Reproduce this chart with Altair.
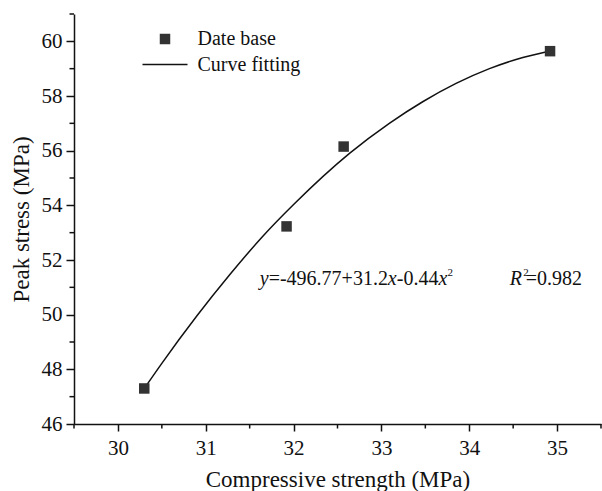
import altair as alt
import pandas as pd

# measured data points
strength = [30.30, 31.92, 32.57, 34.92]
peak = [47.30, 53.23, 56.15, 59.64]

# points
curve_x = [30.30, 30.50, 30.90, 31.27, 31.65, 32.00, 32.64, 33.09, 33.47, 33.85, 34.23, 34.61, 34.92]
curve_y = [47.30, 48.22, 49.96, 51.45, 52.87, 54.03, 55.91, 57.00, 57.79, 58.46, 59.00, 59.41, 59.65]

x_major = [30, 31, 32, 33, 34, 35]
x_minor = [29.5, 30.5, 31.5, 32.5, 33.5, 34.5, 35.5]
y_major = [46, 48, 50, 52, 54, 56, 58, 60]
y_minor = [47, 49, 51, 53, 55, 57, 59, 61]

legend_labels = ["Date base", "Curve fitting"]

FONT = "'Liberation Serif', 'Times New Roman', 'DejaVu Serif', serif"
W, H = 527, 410

pts = pd.DataFrame({"x": strength, "y": peak})
crv = pd.DataFrame({"x": curve_x, "y": curve_y})

xs = alt.Scale(domain=[29.5, 35.5], nice=False, zero=False)
ys = alt.Scale(domain=[46, 61], nice=False, zero=False)

xaxis = alt.Axis(values=x_major, title="Compressive strength (MPa)", grid=False,
                 tickSize=7, tickWidth=1.5, domainWidth=1.5, domainColor="#111",
                 tickColor="#111", labelFontSize=21, labelFont=FONT, labelColor="#111",
                 labelPadding=6, titleFont=FONT, titleFontSize=23, titleFontWeight="normal",
                 titleColor="#111", titlePadding=10, format="d")
yaxis = alt.Axis(values=y_major, title="Peak stress (MPa)", grid=False,
                 tickSize=8, tickWidth=1.5, domainWidth=1.5, domainColor="#111",
                 tickColor="#111", labelFontSize=21, labelFont=FONT, labelColor="#111",
                 labelPadding=4, titleFont=FONT, titleFontSize=23, titleFontWeight="normal",
                 titleColor="#111", titlePadding=8, format="d")

line = alt.Chart(crv).mark_line(color="#111", strokeWidth=1.5, interpolate="monotone").encode(
    x=alt.X("x:Q", scale=xs, axis=xaxis),
    y=alt.Y("y:Q", scale=ys, axis=yaxis),
)

points = alt.Chart(pts).mark_point(shape="square", filled=True, size=110, color="#333",
                                   opacity=1).encode(
    x=alt.X("x:Q", scale=xs),
    y=alt.Y("y:Q", scale=ys),
)

xminor = alt.Chart(pd.DataFrame({"x": x_minor})).mark_rule(color="#111", strokeWidth=1.5).encode(
    x=alt.X("x:Q", scale=xs), y=alt.value(H), y2=alt.value(H + 4.5))
yminor = alt.Chart(pd.DataFrame({"y": y_minor})).mark_rule(color="#111", strokeWidth=1.5).encode(
    y=alt.Y("y:Q", scale=ys), x=alt.value(0), x2=alt.value(-4.5))

# legend (manual)
leg_sq = alt.Chart(pd.DataFrame({"k": [legend_labels[0]]})).mark_point(
    shape="square", filled=True, size=110, color="#333", opacity=1).encode(
    x=alt.value(91), y=alt.value(25))
leg_ln = alt.Chart(pd.DataFrame({"k": [legend_labels[1]]})).mark_rule(
    color="#111", strokeWidth=1.5).encode(x=alt.value(68.5), x2=alt.value(113.5), y=alt.value(50.5))
leg_txt = alt.Chart(pd.DataFrame({"t": legend_labels, "yy": [25, 50.5]})).mark_text(
    align="left", baseline="middle", font=FONT, fontSize=20, color="#111").encode(
    x=alt.value(123.5), y=alt.Y("yy:Q", scale=None), text="t:N")

# equation annotation
eq_x, eq_y = 31.615, 51.07
segs = [
    ("y", 0, 0, "italic", 20),
    ("=-496.77+31.2", 8.9, 0, "normal", 20),
    ("x", 128.1, 0, "italic", 20),
    ("-0.44", 137.0, 0, "normal", 20),
    ("x", 178.7, 0, "italic", 20),
    ("2", 187.8, -9, "normal", 11),
]
r_x = 34.46
rsegs = [
    ("R", 0, 0, "italic", 20),
    ("2", 13.5, -9, "normal", 11),
    ("=0.982", 16, 0, "normal", 20),
]
ann = []
for ax, lst in ((eq_x, segs), (r_x, rsegs)):
    for t, dx, dy, st, fs in lst:
        ann.append(alt.Chart(pd.DataFrame({"x": [ax], "y": [eq_y], "t": [t]})).mark_text(
            align="left", baseline="alphabetic", dx=dx, dy=dy, font=FONT, fontSize=fs,
            fontStyle=st, color="#111").encode(
            x=alt.X("x:Q", scale=xs), y=alt.Y("y:Q", scale=ys), text="t:N"))

chart = alt.layer(line, xminor, yminor, points, leg_sq, leg_ln, leg_txt, *ann).properties(
    width=W, height=H,
    autosize=alt.AutoSizeParams(type="none"),
    padding={"left": 74, "top": 14, "right": 1, "bottom": 67},
    background="white",
).configure_view(stroke=None)

chart.save("out.html", embed_options={"renderer": "svg", "actions": False})
